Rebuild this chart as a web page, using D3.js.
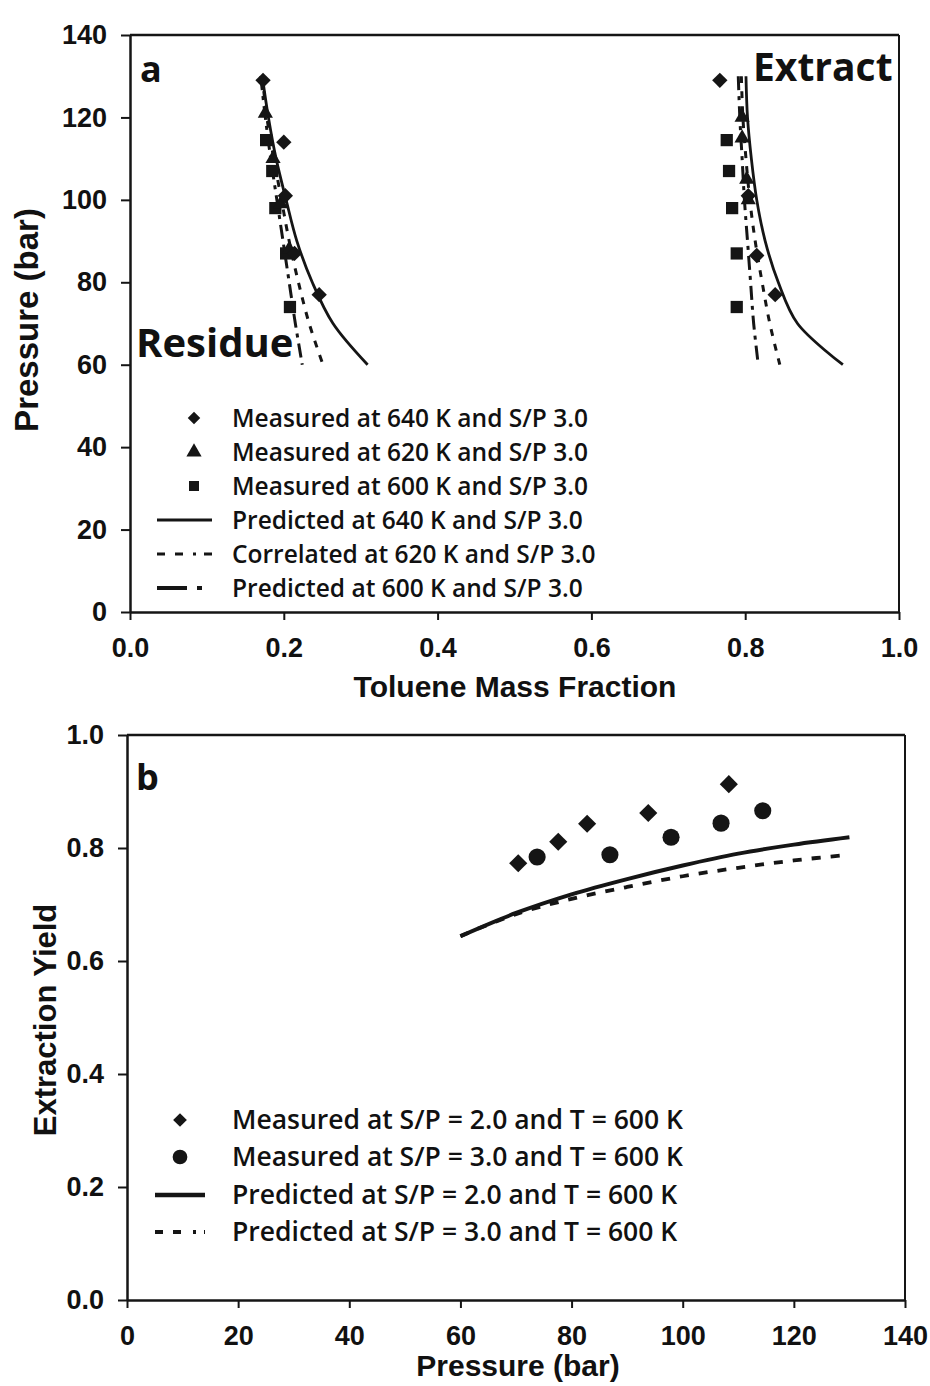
<!DOCTYPE html>
<html>
<head>
<meta charset="utf-8">
<script src="https://cdn.jsdelivr.net/npm/d3@7"></script>
<style>
  body { margin: 0; background: #fff; }
  svg { display: block; }
</style>
</head>
<body>
<svg id="chart" width="930" height="1386"></svg>
<script>
// ---- panel a data: [toluene mass fraction, pressure (bar)] ----
const resMeas640 = [[0.173,129],[0.200,114],[0.202,101],[0.214,87],[0.246,77]];
const resMeas620 = [[0.176,121],[0.186,110],[0.196,99],[0.207,88]];
const resMeas600 = [[0.177,114.5],[0.185,107],[0.189,98],[0.203,87],[0.208,74]];
const extMeas640 = [[0.767,129],[0.804,101],[0.815,86.5],[0.839,77]];
const extMeas620 = [[0.796,120],[0.796,115],[0.802,105],[0.804,100]];
const extMeas600 = [[0.776,114.5],[0.779,107],[0.783,98],[0.789,87],[0.789,74]];

const linePressures = [130,120,110,100,90,80,70,60];
const resPred640 = [0.172,0.180,0.190,0.203,0.217,0.237,0.264,0.309];
const resCorr620 = [0.172,0.178,0.187,0.197,0.207,0.219,0.233,0.251];
const resPred600 = [0.170,0.176,0.183,0.191,0.199,0.207,0.215,0.224];
const extPred640 = [0.801,0.803,0.808,0.815,0.826,0.843,0.868,0.927];
const extCorr620 = [0.795,0.797,0.801,0.806,0.813,0.822,0.832,0.845];
const extPred600 = [0.791,0.793,0.796,0.799,0.803,0.807,0.811,0.817];

const legendA = ['Measured at 640 K and S/P 3.0','Measured at 620 K and S/P 3.0','Measured at 600 K and S/P 3.0',
                 'Predicted at 640 K and S/P 3.0','Correlated at 620 K and S/P 3.0','Predicted at 600 K and S/P 3.0'];
const xTicksA = [0,0.2,0.4,0.6,0.8,1.0];
const yTicksA = [0,20,40,60,80,100,120,140];

// ---- panel b data: [pressure (bar), extraction yield] ----
const measSP2 = [[70.4,0.773],[77.6,0.811],[82.8,0.843],[93.8,0.862],[108.3,0.913]];
const measSP3 = [[73.8,0.784],[86.9,0.788],[97.9,0.819],[106.9,0.844],[114.4,0.866]];
const predPressures = [60,70,80,90,100,110,120,130];
const predSP2 = [0.644,0.685,0.718,0.745,0.769,0.790,0.806,0.819];
const predSP3 = [0.644,0.683,0.710,0.731,0.750,0.765,0.778,0.788];

const legendB = ['Measured at S/P = 2.0 and T = 600 K','Measured at S/P = 3.0 and T = 600 K',
                 'Predicted at S/P = 2.0 and T = 600 K','Predicted at S/P = 3.0 and T = 600 K'];
const xTicksB = [0,20,40,60,80,100,120,140];
const yTicksB = [0,0.2,0.4,0.6,0.8,1.0];

const ink = '#151515';
const tickFont = '"Liberation Sans", Arial, sans-serif';
const textFont = '"Open Sans", "Noto Sans", sans-serif';
const svg = d3.select('#chart');

function frame(g, x, y, xTicks, yTicks, xFmt, yFmt){
  const [x0,x1] = x.range(), [y0,y1] = y.range();
  const ax = g.append('g').attr('transform','translate(0,'+y0+')')
    .call(d3.axisBottom(x).tickValues(xTicks).tickFormat(xFmt).tickSize(8).tickSizeOuter(0).tickPadding(18));
  const ay = g.append('g').attr('transform','translate('+x0+',0)')
    .call(d3.axisLeft(y).tickValues(yTicks).tickFormat(yFmt).tickSize(9).tickSizeOuter(0).tickPadding(14));
  [ax,ay].forEach(a=>{
    a.select('.domain').attr('stroke',ink).attr('stroke-width',2.5);
    a.selectAll('.tick line').attr('stroke',ink).attr('stroke-width',2);
    a.selectAll('.tick text').attr('fill','#111').style('font-family',tickFont)
      .style('font-weight','bold').style('font-size','27px');
  });
  // top and right border
  g.append('line').attr('x1',x0).attr('x2',x1).attr('y1',y1).attr('y2',y1).attr('stroke',ink).attr('stroke-width',2.5);
  g.append('line').attr('x1',x1).attr('x2',x1).attr('y1',y1).attr('y2',y0).attr('stroke',ink).attr('stroke-width',2);
}

function marker(sel, shape, size){
  const sym = {diamond:d3.symbolDiamond2, triangle:d3.symbolTriangle, square:d3.symbolSquare, circle:d3.symbolCircle}[shape];
  return sel.append('path').attr('d', d3.symbol(sym, size)).attr('fill', ink);
}

function label(g, x, y, txt, font, size, weight){
  return g.append('text').attr('x',x).attr('y',y).text(txt).attr('fill','#111')
    .style('font-family',font).style('font-size',size+'px').style('font-weight',weight);
}

// ================= panel a =================
const xA = d3.scaleLinear().domain([0,1]).range([130,899]);
const yA = d3.scaleLinear().domain([0,140]).range([612,35]);
const gA = svg.append('g');
frame(gA, xA, yA, xTicksA, yTicksA, d3.format('.1f'), d3.format('d'));

const styleA = {solid:{w:2.8,dash:null,leg:null}, dashed:{w:3,dash:'7,8',leg:'8,10,8,10,3'},
                dashdot:{w:3,dash:'14,6,4,6',leg:'30,10,5,20'}};
const lineA = d3.line().x(d=>xA(d[0])).y(d=>yA(d[1])).curve(d3.curveCatmullRom);
[[resPred640,'solid'],[resCorr620,'dashed'],[resPred600,'dashdot'],
 [extPred640,'solid'],[extCorr620,'dashed'],[extPred600,'dashdot']].forEach(([vals,st])=>{
  gA.append('path').datum(vals.map((v,i)=>[v,linePressures[i]])).attr('d',lineA)
    .attr('fill','none').attr('stroke',ink).attr('stroke-width',styleA[st].w)
    .attr('stroke-dasharray',styleA[st].dash);
});
[[resMeas600,'square',150],[extMeas600,'square',150],[resMeas620,'triangle',100],[extMeas620,'triangle',100],
 [resMeas640,'diamond',150],[extMeas640,'diamond',150]].forEach(([pts,shape,size])=>{
  pts.forEach(p=>marker(gA,shape,size).attr('transform','translate('+xA(p[0])+','+yA(p[1])+')'));
});

label(gA,140,82,'a',textFont,36,'bold');
label(gA,753,81,'Extract',textFont,39,'bold');
label(gA,136,357,'Residue',textFont,40,'bold');

// legend a
const legARows = [418,452,486,520,554,588];
legendA.forEach((t,i)=>{
  const y = legARows[i];
  if(i<3){
    marker(gA,['diamond','triangle','square'][i],100).attr('transform','translate(194,'+y+')');
  } else {
    const st = ['solid','dashed','dashdot'][i-3];
    gA.append('line').attr('x1',157).attr('x2',212).attr('y1',y).attr('y2',y)
      .attr('stroke',ink).attr('stroke-width',i===5?4:3).attr('stroke-dasharray',styleA[st].leg);
  }
  label(gA,232,y,t,textFont,24.5,600).attr('dy','0.35em');
});

label(gA,515,697,'Toluene Mass Fraction',tickFont,30,'bold').attr('text-anchor','middle');
label(gA,0,0,'Pressure (bar)',tickFont,33,'bold').attr('text-anchor','middle')
  .attr('transform','translate(38,320) rotate(-90)');

// ================= panel b =================
const xB = d3.scaleLinear().domain([0,140]).range([127,905]);
const yB = d3.scaleLinear().domain([0,1]).range([1300,735]);
const gB = svg.append('g');
frame(gB, xB, yB, xTicksB, yTicksB, d3.format('d'), d3.format('.1f'));

const lineB = d3.line().x(d=>xB(d[0])).y(d=>yB(d[1])).curve(d3.curveCatmullRom);
gB.append('path').datum(predSP3.map((v,i)=>[predPressures[i],v])).attr('d',lineB)
  .attr('fill','none').attr('stroke',ink).attr('stroke-width',3.8).attr('stroke-dasharray','9,10');
gB.append('path').datum(predSP2.map((v,i)=>[predPressures[i],v])).attr('d',lineB)
  .attr('fill','none').attr('stroke',ink).attr('stroke-width',4);
measSP2.forEach(p=>marker(gB,'diamond',210).attr('transform','translate('+xB(p[0])+','+yB(p[1])+')'));
measSP3.forEach(p=>marker(gB,'circle',230).attr('transform','translate('+xB(p[0])+','+yB(p[1])+')'));

label(gB,136,790,'b',textFont,36,'bold');

const legBRows = [1120,1157,1195,1232];
legendB.forEach((t,i)=>{
  const y = legBRows[i];
  if(i===0) marker(gB,'diamond',120).attr('transform','translate(180,'+y+')');
  else if(i===1) marker(gB,'circle',170).attr('transform','translate(180,'+y+')');
  else gB.append('line').attr('x1',155).attr('x2',205).attr('y1',y).attr('y2',y)
      .attr('stroke',ink).attr('stroke-width',i===2?4.5:4).attr('stroke-dasharray',i===2?null:'8,10,8,12,3');
  label(gB,232,y,t,textFont,26.5,600).attr('dy','0.35em');
});

label(gB,518,1376,'Pressure (bar)',tickFont,30,'bold').attr('text-anchor','middle');
label(gB,0,0,'Extraction Yield',tickFont,31,'bold').attr('text-anchor','middle')
  .attr('transform','translate(56,1020) rotate(-90)');
</script>
</body>
</html>
